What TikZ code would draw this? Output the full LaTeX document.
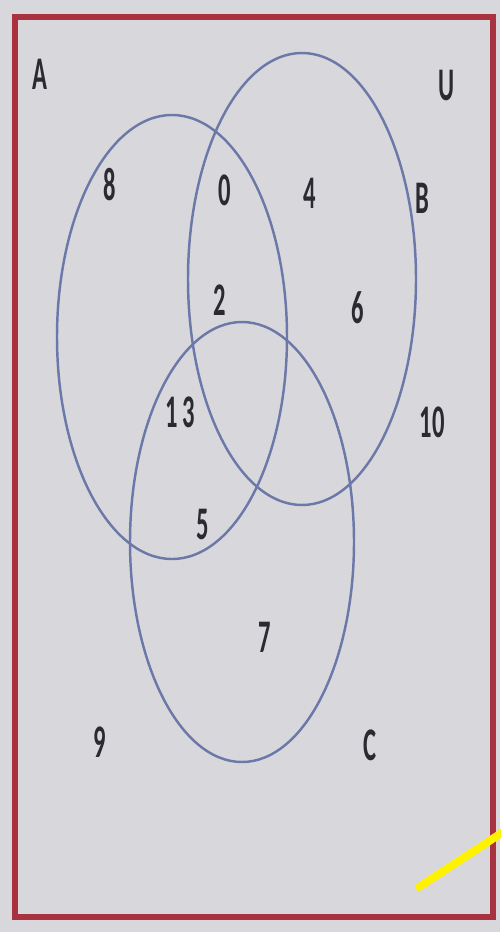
\documentclass[tikz,border=0pt]{standalone}
\usepackage{fontspec}
\setsansfont{Carlito}
\definecolor{paper}{HTML}{D8D8DC}
\definecolor{frame}{HTML}{A8323F}
\definecolor{ring}{HTML}{6C79A8}
\definecolor{ink}{HTML}{2A2A30}
\definecolor{marker}{HTML}{FFF200}

\begin{document}
\begin{tikzpicture}[x=0.02cm,y=-0.02cm,font=\sffamily,
  lbl/.style={text=ink,font=\sffamily\bfseries\fontsize{14}{14}\selectfont,inner sep=0pt,
    yscale=1.9,transform shape},
  setline/.style={draw=ring,line width=1.4pt},
  border/.style={draw=frame,line width=3.2pt}]

% ============ PAPER + FRAME ============
\fill[paper] (0,0) rectangle (500,932);
\useasboundingbox (0,0) rectangle (500,932);
\draw[border] (15,17) rectangle (493,917);

% ============ SETS ============
\draw[setline] (172,337) ellipse [x radius=115,y radius=222];
\draw[setline] (302,279) ellipse [x radius=114,y radius=226];
\draw[setline] (242,542) ellipse [x radius=112,y radius=220];

% ============ LABELS ============
\node[lbl] (nA)  at (40,74)   {A};
\node[lbl] (nU)  at (447,86)  {U};
\node[lbl] (nB)  at (422,198) {B};
\node[lbl] (nC)  at (370,745) {C};
\node[lbl] (e8)  at (110,185) {8};
\node[lbl] (e0)  at (225,190) {0};
\node[lbl] (e4)  at (310,193) {4};
\node[lbl] (e2)  at (220,300) {2};
\node[lbl] (e6)  at (358,308) {6};
\node[lbl] (e13) at (180,412) {1\,3};
\node[lbl] (e10) at (432,422) {10};
\node[lbl] (e5)  at (203,525) {5};
\node[lbl] (e7)  at (265,637) {7};
\node[lbl] (e9)  at (100,742) {9};

% stray highlighter stroke
\draw[marker,line width=4.5pt,line cap=round] (419,887) -- (503,832);

\end{tikzpicture}
\end{document}
